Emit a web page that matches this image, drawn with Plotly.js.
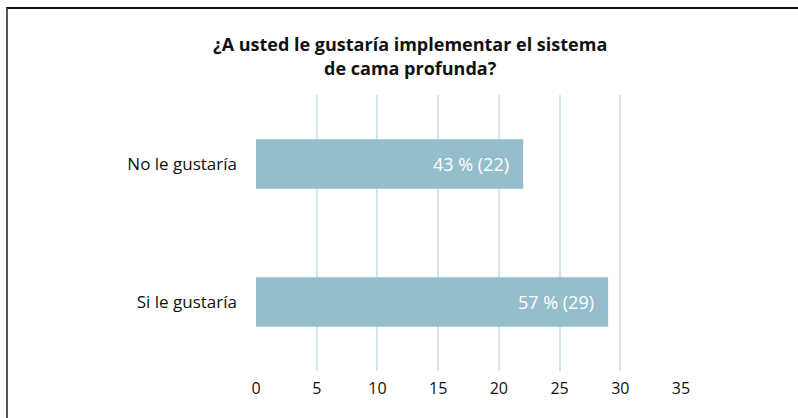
<!DOCTYPE html>
<html>
<head>
<meta charset="utf-8">
<script src="https://cdn.plot.ly/plotly-3.0.1.min.js"></script>
<style>
html,body{margin:0;padding:0;background:#fff;}
#wrap{position:relative;width:798px;height:418px;overflow:hidden;}
#frame{position:absolute;left:6px;top:7px;width:800px;height:420px;border-left:2px solid #555;border-top:2px solid #111;box-sizing:border-box;pointer-events:none;z-index:5;}
#chart{position:absolute;left:0;top:0;width:798px;height:418px;}
</style>
</head>
<body>
<div id="wrap"><div id="chart"></div><div id="frame"></div></div>
<script>
const categories = ['Si le gustaría', 'No le gustaría'];
const counts = [29, 22];
const percents = [57, 43];
const xTicks = [0, 5, 10, 15, 20, 25, 30, 35];

const labels = counts.map((c, i) => percents[i] + ' % (' + c + ')');
const FONT = '"Open Sans", "Noto Sans", sans-serif';

const trace = {
  type: 'bar',
  orientation: 'h',
  y: categories,
  x: counts,
  marker: {color: '#94BECB'},
  width: 0.36,
  hoverinfo: 'none'
};

const annotations = counts.map((c, i) => ({
  x: c, y: categories[i], xref: 'x', yref: 'y',
  text: labels[i], showarrow: false,
  xanchor: 'right', xshift: -12,
  font: {family: FONT, size: 18, color: '#ffffff'}
}));

const layout = {
  width: 798, height: 418,
  margin: {l: 256, r: 117, t: 95, b: 47},
  paper_bgcolor: '#ffffff', plot_bgcolor: '#ffffff',
  showlegend: false,
  title: {
    text: '<b>¿A usted le gustaría implementar el sistema<br>de cama profunda?</b>',
    x: 0.514, xanchor: 'center', xref: 'container',
    y: 0.877, yanchor: 'top', yref: 'container',
    font: {family: FONT, size: 18, color: '#111111'}
  },
  xaxis: {
    range: [0, 35], tickvals: xTicks, ticktext: xTicks.map(String),
    showgrid: true, gridcolor: '#D2E5EC', gridwidth: 2,
    zeroline: false, showline: false, ticks: '',
    ticklabelstandoff: 6,
    tickfont: {family: FONT, size: 16, color: '#111111'},
    fixedrange: true
  },
  yaxis: {
    type: 'category', categoryorder: 'array', categoryarray: categories,
    showgrid: false, zeroline: false, showline: false, ticks: '',
    ticklabelstandoff: 18,
    tickfont: {family: FONT, size: 17, color: '#111111'},
    fixedrange: true
  },
  annotations: annotations
};

Plotly.newPlot('chart', [trace], layout, {displayModeBar: false, staticPlot: true});
</script>
</body>
</html>
